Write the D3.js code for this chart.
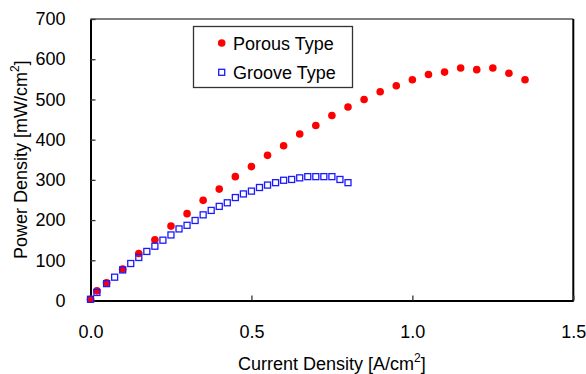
<!DOCTYPE html>
<html><head><meta charset="utf-8">
<script src="https://cdn.jsdelivr.net/npm/d3@7"></script>
<style>body{margin:0;background:#fff;} svg{display:block;font-family:"Liberation Sans",Arial,sans-serif;}</style>
</head><body>
<svg id="c" width="586" height="374"></svg>
<script>
const porousX = [0,0.02,0.05,0.1,0.15,0.2,0.25,0.3,0.35,0.4,0.45,0.5,0.55,0.6,0.65,0.7,0.75,0.8,0.85,0.9,0.95,1.0,1.05,1.1,1.15,1.2,1.25,1.3,1.35];
const porousY = [3,24,44,78,117,151,185,216,249,277,308,333,361,385,414,435,460,481,500,519,534,549,562,568,578,574,578,565,549];
const grooveX = [0,0.02,0.05,0.075,0.1,0.125,0.15,0.175,0.2,0.225,0.25,0.275,0.3,0.325,0.35,0.375,0.4,0.425,0.45,0.475,0.5,0.525,0.55,0.575,0.6,0.625,0.65,0.675,0.7,0.725,0.75,0.775,0.8];
const grooveY = [3,20,42,58,76,92,107,122,135,150,163,178,187,199,213,224,234,243,256,265,272,281,287,293,299,301,305,308,308,308,308,301,293];
const xTicks = [0,0.5,1.0,1.5];
const yTicks = [0,100,200,300,400,500,600,700];
const seriesNames = ["Porous Type","Groove Type"];

const svg = d3.select("#c");
const L = 90.5, R = 573.3, T = 19, B = 300.5;
const x = d3.scaleLinear().domain([0,1.5]).range([L,R]);
const y = d3.scaleLinear().domain([0,700]).range([B,T]);

// frame top & right
svg.append("line").attr("x1",L).attr("x2",R).attr("y1",T).attr("y2",T).attr("stroke","#555").attr("stroke-width",1.3);
svg.append("line").attr("x1",R).attr("x2",R).attr("y1",T).attr("y2",B).attr("stroke","#000").attr("stroke-width",2);

// axes
const xAxis = d3.axisBottom(x).tickValues(xTicks).tickFormat(d3.format(".1f")).tickSizeInner(-5).tickSizeOuter(0).tickPadding(25);
const gx = svg.append("g").attr("transform",`translate(0,${B})`).call(xAxis);
gx.select(".domain").attr("stroke","#000").attr("stroke-width",2);
gx.selectAll(".tick line").attr("stroke","#333").attr("stroke-width",1.3);
gx.selectAll(".tick text").attr("font-size",18).attr("fill","#000").attr("font-family","Liberation Sans, Arial, sans-serif");

const yAxis = d3.axisLeft(y).tickValues(yTicks).tickFormat(d3.format("d")).tickSizeInner(-5).tickSizeOuter(0).tickPadding(25);
const gy = svg.append("g").attr("transform",`translate(${L},0)`).call(yAxis);
gy.select(".domain").attr("stroke","#000").attr("stroke-width",2);
gy.selectAll(".tick line").attr("stroke","#333").attr("stroke-width",1.3);
gy.selectAll(".tick text").attr("font-size",18).attr("fill","#000").attr("font-family","Liberation Sans, Arial, sans-serif");

// axis titles
const xt = svg.append("text").attr("x",(L+R)/2+0).attr("y",370).attr("text-anchor","middle").attr("font-size",18);
xt.append("tspan").text("Current Density [A/cm");
xt.append("tspan").attr("font-size",12).attr("dy",-8).text("2");
xt.append("tspan").attr("dy",8).text("]");

const yt = svg.append("text").attr("transform",`translate(27,${(T+B)/2}) rotate(-90)`).attr("text-anchor","middle").attr("font-size",18);
yt.append("tspan").text("Power Density [mW/cm");
yt.append("tspan").attr("font-size",12).attr("dy",-8).text("2");
yt.append("tspan").attr("dy",8).text("]");

// data
const porous = porousX.map((v,i)=>({x:v,y:porousY[i]}));
const groove = grooveX.map((v,i)=>({x:v,y:grooveY[i]}));
svg.append("g").selectAll("circle").data(porous).join("circle")
  .attr("cx",d=>x(d.x)).attr("cy",d=>y(d.y)).attr("r",3.8).attr("fill","#ff0000");
svg.append("g").selectAll("rect").data(groove).join("rect")
  .attr("x",d=>x(d.x)-3).attr("y",d=>y(d.y)-3).attr("width",6).attr("height",6)
  .attr("fill","none").attr("stroke","#1a1aff").attr("stroke-width",1.3);

// legend
const lg = svg.append("g");
lg.append("rect").attr("x",193.5).attr("y",26.5).attr("width",159).attr("height",61).attr("fill","#fff").attr("stroke","#333").attr("stroke-width",1.3);
lg.append("circle").attr("cx",221.7).attr("cy",43).attr("r",3.8).attr("fill","#ff0000");
lg.append("rect").attr("x",218.7).attr("y",69.3).attr("width",6).attr("height",6).attr("fill","none").attr("stroke","#1a1aff").attr("stroke-width",1.3);
lg.append("text").attr("x",233).attr("y",50).attr("font-size",18).text(seriesNames[0]);
lg.append("text").attr("x",233).attr("y",79).attr("font-size",18).text(seriesNames[1]);
</script>
</body></html>
